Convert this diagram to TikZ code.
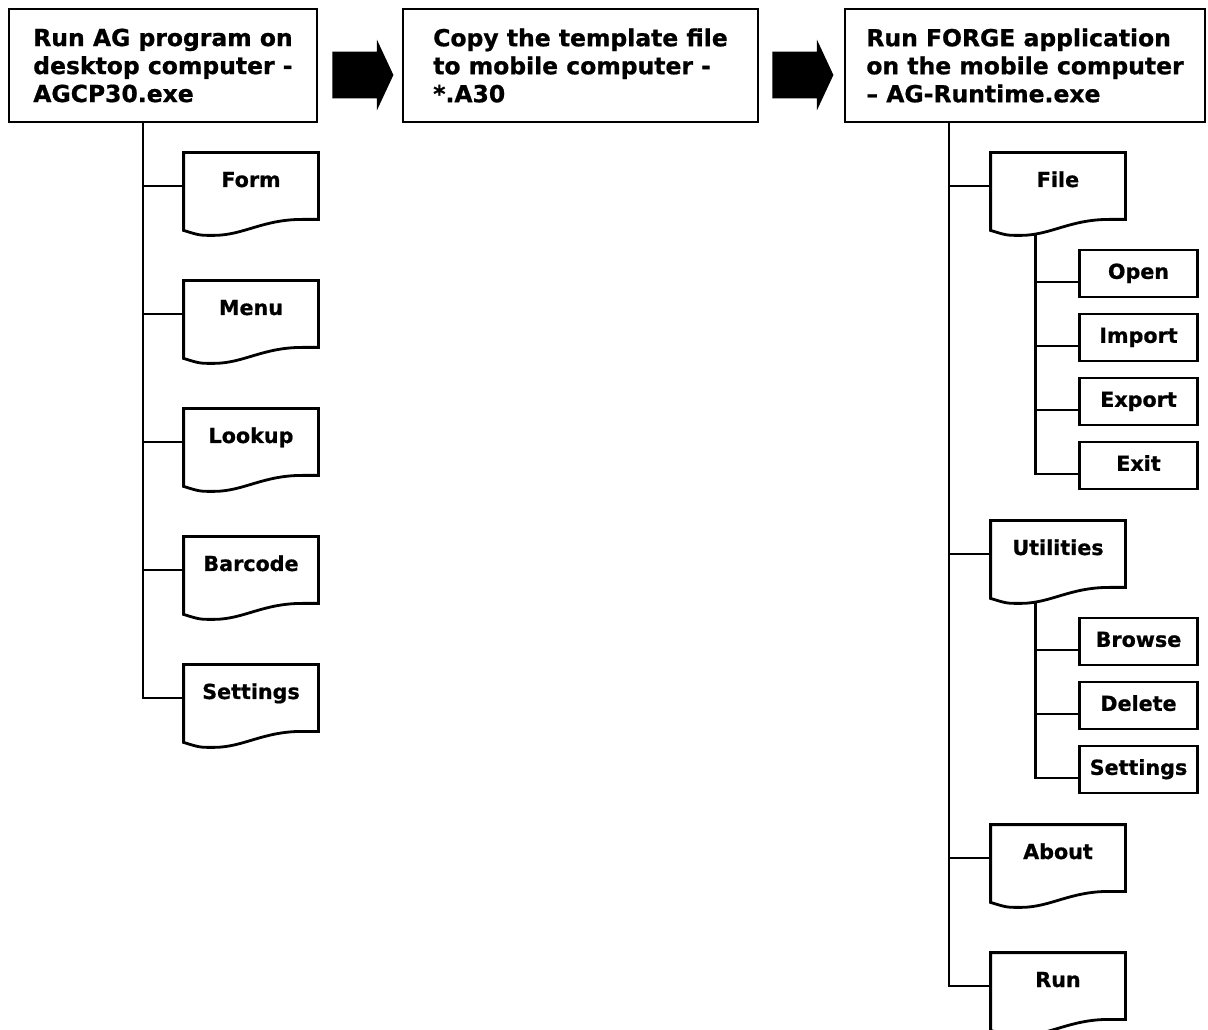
\documentclass[tikz,border=0pt]{standalone}
\usepackage{fontspec}
\setmainfont{DejaVu Sans}[BoldFeatures={FakeBold=0.8}]
\usetikzlibrary{shapes.arrows}

\begin{document}
\begin{tikzpicture}[x=0.75pt, y=-0.75pt, line width=2.1pt,
		mainbox/.style={draw, minimum height=84.75pt, align=left, inner sep=0pt, font=\bfseries\fontsize{17.6}{21}\selectfont},
		docnode/.style={minimum width=99pt, minimum height=48pt, inner sep=0pt, text height=11.5pt, text depth=10pt, font=\bfseries\fontsize{15.5}{18}\selectfont},
		itembox/.style={draw, minimum width=88.5pt, minimum height=35.25pt, inner sep=0pt, text height=11.5pt, text depth=3.5pt, font=\bfseries\fontsize{15.5}{18}\selectfont},
		fatarrow/.style={single arrow, fill=black, draw=none, anchor=tail, inner xsep=0pt, inner ysep=16.5pt, minimum height=45.75pt, minimum width=51pt, single arrow head extend=9pt, single arrow tip angle=130}]
		\useasboundingbox (0, 0) rectangle (1208, 1030);

		% steps
		\node[mainbox, minimum width=231pt] (agprog) at (163, 65.5) {Run AG program on\\desktop computer -\\AGCP30.exe};
		\node[mainbox, minimum width=266.25pt] (copy) at (580.5, 65.5) {Copy the template file\\to mobile computer -\\*.A30};
		\node[mainbox, minimum width=270pt] (forge) at (1025, 65.5) {Run FORGE application\\on the mobile computer\\– AG-Runtime.exe};
		\node[fatarrow] (arrA) at (331, 75) {};
		\node[fatarrow] (arrB) at (771, 75) {};

		% AG program
		\node[docnode] (form) at (251, 186) {Form};
		\node[docnode] (menu) at (251, 314) {Menu};
		\node[docnode] (lookup) at (251, 442) {Lookup};
		\node[docnode] (barcode) at (251, 570) {Barcode};
		\node[docnode] (setA) at (251, 698) {Settings};

		% FORGE
		\node[docnode] (file) at (1058, 186) {File};
		\node[docnode] (util) at (1058, 554) {Utilities};
		\node[docnode] (about) at (1058, 858) {About};
		\node[docnode] (run) at (1058, 986) {Run};
		\node[itembox] (open) at (1138.5, 273.5) {Open};
		\node[itembox] (import) at (1138.5, 337.5) {Import};
		\node[itembox] (export) at (1138.5, 401.5) {Export};
		\node[itembox] (exit) at (1138.5, 465.5) {Exit};
		\node[itembox] (browse) at (1138.5, 641.5) {Browse};
		\node[itembox] (delete) at (1138.5, 705.5) {Delete};
		\node[itembox] (setB) at (1138.5, 769.5) {Settings};

		\foreach \d in {form,menu,lookup,barcode,setA,file,util,about,run}
			\draw (\d.south east) -- ++(-16, 0) .. controls +(-40, 0) and +(30, 0) .. ([shift={(30, 16)}]\d.south west) .. controls +(-14, 0) .. ([yshift=-8.25pt]\d.south west) -- (\d.north west) -- (\d.north east) -- cycle;

		\coordinate (ltop) at ([xshift=-15pt]agprog.south);
		\coordinate (rtop) at ([xshift=-57pt]forge.south);
		\coordinate (fileTop) at ([shift={(45, 15)}]file.south west);
		\coordinate (utilTop) at ([shift={(45, 15)}]util.south west);

		\foreach \d in {form,menu,lookup,barcode,setA}
			\draw (\d.west) -| (ltop);
		\foreach \d in {file,util,about,run}
			\draw (\d.west) -| (rtop);
		\foreach \b in {open,import,export,exit}
			\draw ([yshift=-6.4pt]\b.west) -| (fileTop);
		\foreach \b in {browse,delete,setB}
			\draw ([yshift=-6.4pt]\b.west) -| (utilTop);
	\end{tikzpicture}
\end{document}
